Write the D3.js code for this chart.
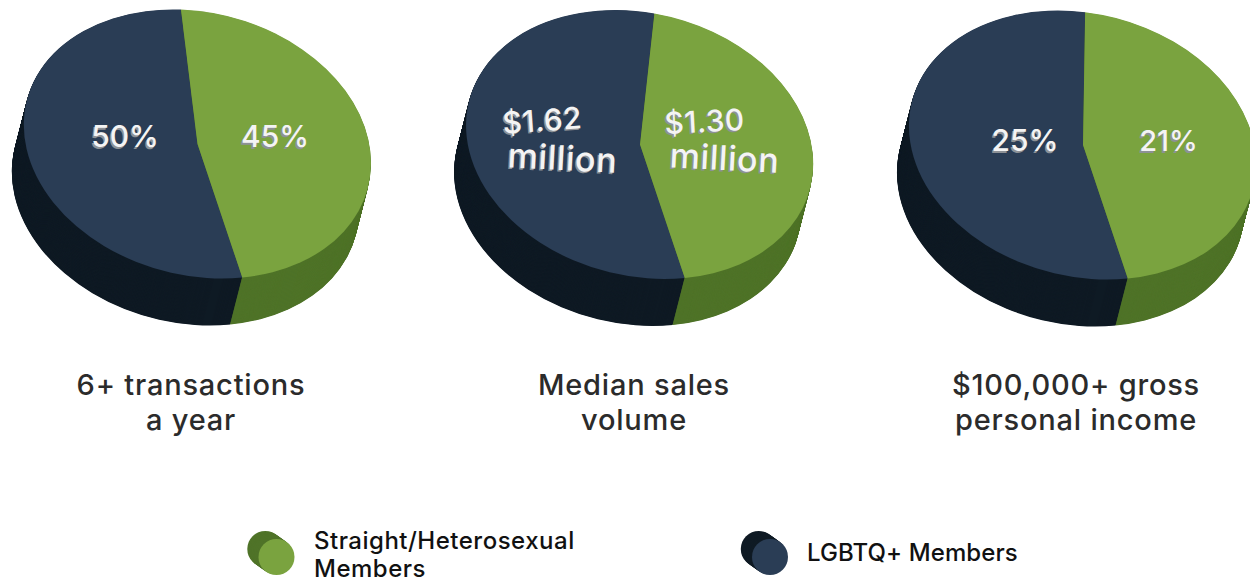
<!DOCTYPE html>
<html>
<head>
<meta charset="utf-8">
<script src="https://cdn.jsdelivr.net/npm/d3@7"></script>
<style>
    html, body {margin: 0; background: #fff;}
    svg {display: block;}
    text {font-family: Inter, "Noto Sans", sans-serif; font-weight: 500;}
</style>
</head>
<body>
<svg id="chart" width="1250" height="579"></svg>
<script>
// values
const groups = ['LGBTQ+ Members', 'Straight/Heterosexual Members'];
const lgbtqValues = [50, 1.62, 25];
const straightValues = [45, 1.30, 21];
const lgbtqLabels = [['50%'], ['$1.62', 'million'], ['25%']];
const straightLabels = [['45%'], ['$1.30', 'million'], ['21%']];
const captions = [['6+ transactions', 'a year'], ['Median sales', 'volume'], ['$100,000+ gross', 'personal income']];

const topColor = d3.scaleOrdinal().domain(groups).range(['#2a3d55', '#7aa33f']);
const sideColor = d3.scaleOrdinal().domain(groups).range(['#0f1a24', '#4f7328']);

// layout
const centers = [[197.5, 144], [640, 144.5], [1083, 145]];
const captionX = [191, 634, 1076];
const ellipse = {a: 176, b: 131.3, rotate: 14.4};
const depth = {x: -12, y: 47};
const startAngle = 154.2 * Math.PI / 180;

const svg = d3.select('#chart');
const pie = d3.pie().sort(null).value(d => d.value)
    .startAngle(startAngle).endAngle(startAngle + 2 * Math.PI);
const arc = d3.arc().innerRadius(0).outerRadius(1);

centers.forEach((c, ci) => {
    const slices = pie([
        {group: groups[0], value: lgbtqValues[ci]},
        {group: groups[1], value: straightValues[ci]}
    ]);
    const g = svg.append('g');
    // the wall is the same pie stacked from the bottom up, half a pixel apart so no seams show
    d3.range(depth.y, 0, -0.5).forEach(step => {
        const k = step / depth.y;
        g.append('g')
            .attr('transform', `translate(${c[0] + depth.x * k},${c[1] + depth.y * k}) rotate(${ellipse.rotate}) scale(${ellipse.a},${ellipse.b})`)
            .selectAll('path').data(slices).join('path')
            .attr('d', arc)
            .attr('fill', d => sideColor(d.data.group));
    });
    g.append('g')
        .attr('transform', `translate(${c[0]},${c[1]}) rotate(${ellipse.rotate}) scale(${ellipse.a},${ellipse.b})`)
        .selectAll('path').data(slices).join('path')
        .attr('d', arc)
        .attr('fill', d => topColor(d.data.group));
});

// labels on the faces, [x, baseline y, tilt, font size, letter spacing] per line
const labelPlaces = [
    {lines: lgbtqLabels[0], at: [[125, 147, 0, 30, 0]]},
    {lines: straightLabels[0], at: [[275, 147, 0, 30, 0]]},
    {lines: lgbtqLabels[1], at: [[543, 131, -4, 30, 0.4], [562, 170, 3, 34, 0.6]]},
    {lines: straightLabels[1], at: [[705, 132, -3, 30, 0.4], [724, 170, 3, 34, 0.6]]},
    {lines: lgbtqLabels[2], at: [[1025, 151, 0, 30, 0]]},
    {lines: straightLabels[2], at: [[1168.5, 151, 0, 29, 0]]}
];
labelPlaces.forEach(l => {
    l.lines.forEach((line, i) => {
        const p = l.at[i];
        [['#8d9196', -1.5, 1.5], ['#f4f4f4', 0, 0]].forEach(s => {
            svg.append('text')
                .attr('transform', `translate(${p[0] + s[1]},${p[1] + s[2]}) rotate(${p[2]})`)
                .attr('text-anchor', 'middle')
                .attr('font-size', p[3])
                .attr('letter-spacing', p[4])
                .attr('fill', s[0])
                .text(line);
        });
    });
});

captions.forEach((cap, ci) => {
    cap.forEach((line, i) => {
        svg.append('text')
            .attr('x', captionX[ci])
            .attr('y', 395 + i * 35)
            .attr('text-anchor', 'middle')
            .attr('font-size', 29)
            .attr('letter-spacing', 0.8)
            .attr('fill', '#2b2b2b')
            .text(line);
    });
});

// legend
const legendItems = [
    {group: groups[1], lines: ['Straight/Heterosexual', 'Members'], x: 276.5, textX: 314, textY: [549, 577], spacing: 0.5},
    {group: groups[0], lines: ['LGBTQ+ Members'], x: 770, textX: 807, textY: [561], spacing: 0.1}
];
legendItems.forEach(l => {
    d3.range(8, -1, -1).forEach(step => {
        svg.append('circle')
            .attr('cx', l.x - step * 1.4)
            .attr('cy', 557 - step)
            .attr('r', 18)
            .attr('fill', step ? sideColor(l.group) : topColor(l.group));
    });
    l.lines.forEach((line, i) => {
        svg.append('text')
            .attr('x', l.textX)
            .attr('y', l.textY[i])
            .attr('font-size', 24)
            .attr('letter-spacing', l.spacing)
            .attr('fill', '#111')
            .text(line);
    });
});
</script>
</body>
</html>
